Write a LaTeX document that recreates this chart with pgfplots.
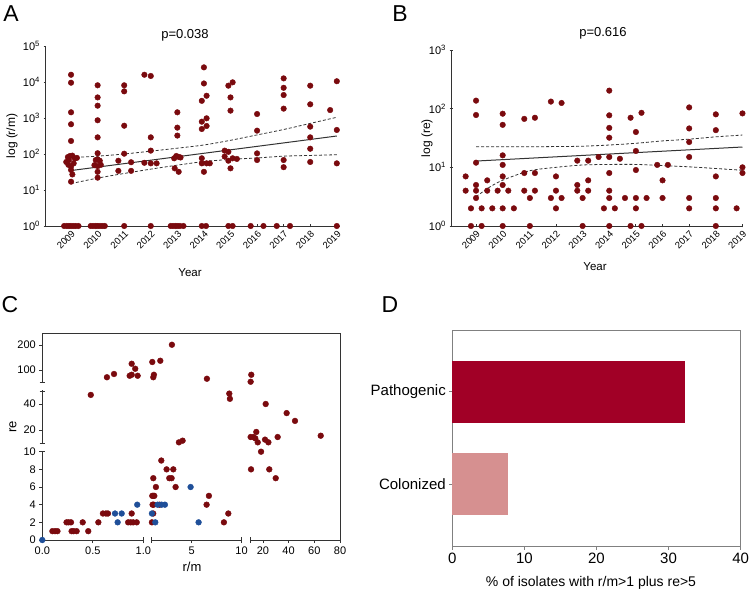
\documentclass[border=0pt]{standalone}
\usepackage{fontspec}
\setmainfont{Liberation Sans}
\usepackage{pgfplots}
\pgfplotsset{compat=1.18}
\usepackage{pgfplotstable}

\definecolor{dred}{HTML}{7A0A0E}
\definecolor{dblue}{HTML}{1F4F99}
\definecolor{patho}{HTML}{A10026}
\definecolor{colon}{HTML}{D69090}
\definecolor{axc}{HTML}{333333}

\pgfplotstableread{
x y
2009 15900
2009 9550
2009 1440
2009 670
2009 230
2008.88 82
2008.96 88
2009.05 90
2009.14 75
2009.22 78
2008.82 60
2008.92 68
2009.10 55
2008.90 50
2009.00 45
2009.00 36
2009.05 27
2009.00 17
2010 8100
2010 3730
2010 2200
2010 865
2010 290
2010 105
2009.93 68
2010.00 71
2010.08 65
2009.88 49
2010.00 46
2010.12 50
2010 32
2010 22
2011 8100
2011 5500
2011 610
2011 102
2010.78 65
2010.78 34
2011.26 59
2011.26 34
2011.76 15900
2012 14700
2012 290
2012 124
2011.76 57
2012 55
2012.22 55
2013 1440
2013 540
2013 325
2012.88 76
2012.96 88
2013.05 83
2013.12 80
2012.90 40
2013.05 32
2014 25500
2014 9100
2013.92 3000
2014.10 4150
2013.92 790
2014.10 980
2013.92 495
2014.10 600
2013.92 76
2013.92 55
2014.10 55
2014.22 55
2014 32
2014.92 7900
2015.08 9800
2015 3730
2015 1600
2014.78 124
2014.92 115
2014.78 85
2014.92 65
2015.08 76
2015.24 73
2015 40
2016 1290
2016 445
2016 104
2016 68
2017 12600
2017 6900
2017 4350
2017 1820
2017 68
2017 43
2018 7900
2018 2400
2018 575
2018 290
2018 140
2018 60
2019 10500
2018.75 1660
2019 465
2019 55
2008.74 1
2008.84 1
2008.92 1
2009.00 1
2009.09 1
2009.18 1
2009.28 1
2009.74 1
2009.83 1
2009.92 1
2010.00 1
2010.09 1
2010.18 1
2010.27 1
2011.00 1
2012.00 1
2012.75 1
2012.84 1
2012.93 1
2013.01 1
2013.10 1
2013.23 1
2013.92 1
2014.08 1
2014.92 1
2015.08 1
2015.76 1
2016.24 1
2016.74 1
2017.24 1
2019.00 1
}\tabA

\pgfplotstableread{
x y
2008.61 7
2008.61 4
2008.81 2
2008.81 1
2009 137
2009 78
2009 12
2009 5
2009 4
2009 3
2009.21 2
2009.21 1
2009.42 6
2009.42 4
2009.61 2
2009.81 4
2010 82
2010 53
2010 16
2010 11
2010 7
2010 5
2010 2
2010 1
2010.21 4
2010.42 2
2010.81 67
2010.81 8
2010.81 4
2011.02 3
2011.02 1
2011.21 70
2011.21 8
2011.21 4
2011.81 132
2012.21 125
2012 7
2012 4
2012 2
2011.81 3
2012.21 3
2012.8 13
2013.21 13
2012.8 5
2012.8 4
2013.21 6
2013.21 4
2013 3
2013 1
2013.6 15
2014 203
2014 77
2014 47
2014 32
2014 15
2014 8
2014 4
2014 3
2014 1
2013.8 2
2014.21 2
2014.4 14
2014.59 3
2014.8 70
2014.8 1
2015 40
2015 19
2015 9
2015 3
2015 2
2015.21 85
2015.21 1
2015.4 3
2015.8 11
2016.2 11
2016 6
2016 3
2017 105
2017 46
2017 27
2017 15
2017 3
2017 2
2018 80
2018 43
2018 7
2018 3
2018 2
2018 1
2018.78 2
2019 83
2019 10
2019 8
}\tabB

\pgfplotstableread{
rm re
3.03 201
1.87 137
1.07 132
0.885 125
0.92 105
0.865 77
0.885 81
0.944 77
0.71 84
0.64 71
1.23 81
1.17 71
6.53 65
11.0 81
10.5 53
0.48 47
8.77 48
8.83 44
22.2 40
38.5 33
45 27
65 15.6
14.9 18.5
10.5 14.6
12.6 14.6
14.1 13.6
16 10.5
21.7 12.6
24.3 10.5
31.5 14.6
3.73 10.5
4.1 11.8
18.6 10
10.8 8
25 8
30 7
1.97 9
2.5 8
3.17 8
2.77 7
3.0 7
1.17 7
3.4 6
1.43 6
1.07 5
1.17 5
1.27 5
6.73 5
1.1 4
1.2 4
1.8 4
6.5 4
1.16 3
8.67 3
1.03 2
8.23 2
0.10 1
0.126 1
0.15 1
0.29 1
0.31 1
0.34 1
0.455 1
0.24 2
0.26 2
0.284 2
0.40 2
0.555 2
0.85 2
0.875 2
0.90 2
0.935 2
0.60 3
0.63 3
0.65 3
0.885 3
}\tabCred

\pgfplotstableread{
rm re
0 0
0.72 3
0.786 3
0.746 2
0.94 4
1.03 3
1.37 2
1.6 4
2.0 4
2.33 4
4.9 6
5.7 2
}\tabCblue

% piecewise (broken-axis) mapping of panel C values to drawing units
\newcommand{\cxexpr}{ifthenelse(\thisrow{rm}<1.0001,101*\thisrow{rm},ifthenelse(\thisrow{rm}<10.0001,109.3+10*(\thisrow{rm}-1),207.7+1.2857*(\thisrow{rm}-10)))}
\newcommand{\cyexpr}{ifthenelse(\thisrow{re}<10.0001,8.83*\thisrow{re},ifthenelse(\thisrow{re}<50.0001,97+1.3*(\thisrow{re}-10),157.5+0.25*(\thisrow{re}-50)))}

\pgfplotsset{
  panel/.style={anchor=south west, scale only axis, enlargelimits=false, clip=false,
    tick align=outside, major tick length=3pt, minor tick length=0pt,
    tick style={axc, line width=0.8pt},
    /pgf/number format/assume math mode=true,
    /pgf/number format/1000 sep={}},
  yearaxis/.style={panel, axis lines=left, axis line style={-, axc, line width=0.9pt},
    xtick={2009,2010,...,2019},
    xticklabel style={rotate=45, anchor=north east, font=\fontsize{9.5}{10}\selectfont, inner sep=1.5pt},
    yticklabel style={font=\fontsize{11}{12}\selectfont}},
}

\begin{document}
\begin{tikzpicture}[x=1pt,y=1pt]
\path[use as bounding box] (0,0) rectangle (750,592);
\coordinate (pA) at (45,366);
\coordinate (pB) at (451,366);
\coordinate (pC) at (42.3,52);
\coordinate (pD) at (452.3,45.3);

% ---------------- Panel A ----------------
\begin{axis}[yearaxis, at={(pA)}, width=295pt, height=180pt,
  ymode=log, ymin=1, ymax=1e5, xmin=2008.02, xmax=2019.12,
  ytick={1,10,100,1000,10000,100000},
  yticklabels={10\textsuperscript{0},10\textsuperscript{1},10\textsuperscript{2},10\textsuperscript{3},10\textsuperscript{4},10\textsuperscript{5}}]
\addplot[only marks, mark=*, mark size=2.8pt, color=dred] table[x=x,y=y] {\tabA};
\addplot[axc, line width=1pt] coordinates {(2009,34.7) (2019,316)};
\addplot[axc, line width=0.8pt, dash pattern=on 3pt off 2pt, smooth] coordinates {
 (2009,79.4) (2010,87.1) (2011,100) (2012,120) (2013,145) (2014,178) (2015,240) (2016,339) (2017,479) (2018,708) (2019,1047)};
\addplot[axc, line width=0.8pt, dash pattern=on 3pt off 2pt, smooth] coordinates {
 (2009,15.1) (2010,21.4) (2011,28.8) (2012,38.0) (2013,49.0) (2014,61.7) (2015,70.8) (2016,77.6) (2017,87.1) (2018,91.2) (2019,95.5)};
\end{axis}

% ---------------- Panel B ----------------
\begin{axis}[yearaxis, at={(pB)}, width=292pt, height=176pt,
  ymode=log, ymin=1, ymax=1000, xmin=2008.06, xmax=2019.02,
  ytick={1,10,100,1000},
  yticklabels={10\textsuperscript{0},10\textsuperscript{1},10\textsuperscript{2},10\textsuperscript{3}}]
\addplot[only marks, mark=*, mark size=2.8pt, color=dred] table[x=x,y=y] {\tabB};
\addplot[axc, line width=1pt] coordinates {(2009,12.8) (2019,22.2)};
\addplot[axc, line width=0.8pt, dash pattern=on 3pt off 2pt, smooth] coordinates {
 (2009,22.4) (2010,22.4) (2011,22.4) (2012,22.6) (2013,22.9) (2014,24.0) (2015,25.7) (2016,28.2) (2017,30.2) (2018,33.1) (2019,35.5)};
\addplot[axc, line width=0.8pt, dash pattern=on 3pt off 2pt, smooth] coordinates {
 (2009,3.16) (2009.5,4.57) (2010,6.03) (2011,8.71) (2012,10.0) (2013,10.96) (2014,11.2) (2015,11.2) (2016,10.7) (2017,10.2) (2018,9.55) (2019,8.91)};
\end{axis}

% ---------------- Panel C ----------------
\begin{axis}[panel, at={(pC)}, width=297.7pt, height=206.7pt,
  xmin=0, xmax=297.7, ymin=0, ymax=206.7,
  axis line style={axc, line width=0.9pt},
  xtick pos=bottom, ytick pos=left,
  xtick={0,50.5,101,149.3,199.3,220.6,246.3,272,297.7},
  xticklabels={0.0,0.5,1.0,5,10,20,40,60,80},
  ytick={0,17.66,35.32,52.98,70.64,88.3,110,136,170,195},
  yticklabels={0,2,4,6,8,10,20,40,100,200},
  tick label style={font=\fontsize{11}{12}\selectfont}]
\addplot[only marks, mark=*, mark size=2.9pt, color=dred] table[x expr={\cxexpr}, y expr={\cyexpr}] {\tabCred};
\addplot[only marks, mark=*, mark size=2.9pt, color=dblue] table[x expr={\cxexpr}, y expr={\cyexpr}] {\tabCblue};
\end{axis}
% axis breaks of panel C
\fill[white] (143.8,49) rectangle (151.1,55);
\fill[white] (242.1,49) rectangle (249.5,55);
\fill[white] (39,140.8) rectangle (45.5,148.5);
\fill[white] (39,201.5) rectangle (45.5,209);
\begin{scope}[axc, line width=0.9pt]
\draw (143.3,49.3) -- (143.3,54.7);
\draw (151.6,49.3) -- (151.6,54.7);
\draw (241.6,49.3) -- (241.6,54.7);
\draw (250.0,49.3) -- (250.0,54.7);
\draw (39.6,140.3) -- (45,140.3);
\draw (39.6,149.0) -- (45,149.0);
\draw (39.6,201.0) -- (45,201.0);
\draw (39.6,209.5) -- (45,209.5);
\end{scope}

% ---------------- Panel D ----------------
\begin{axis}[panel, at={(pD)}, width=288.3pt, height=216.7pt,
  xmin=0, xmax=40, ymin=-0.677, ymax=1.67,
  axis line style={gray, line width=0.9pt}, tick style={gray, line width=0.8pt},
  xtick pos=bottom, ytick pos=left,
  xtick={0,10,20,30,40}, ytick={0,1}, yticklabels={Colonized,Pathogenic},
  tick label style={font=\fontsize{15}{16}\selectfont}]
\addplot[xbar, bar width=61.7pt, bar shift=0pt, fill=patho, draw=none] coordinates {(32.3,1)};
\addplot[xbar, bar width=61.7pt, bar shift=0pt, fill=colon, draw=none] coordinates {(7.7,0)};
\end{axis}

% ---------------- Texts ----------------
\node[font=\fontsize{23}{24}\selectfont] at (11,578) {A};
\node[font=\fontsize{23}{24}\selectfont] at (400,578) {B};
\node[font=\fontsize{23}{24}\selectfont] at (10,287) {C};
\node[font=\fontsize{23}{24}\selectfont] at (390,287) {D};
\node[font=\fontsize{13}{14}\selectfont] at (185,557) {p=0.038};
\node[font=\fontsize{13}{14}\selectfont] at (603,559) {p=0.616};
\node[font=\fontsize{11.5}{12}\selectfont] at (190,319) {Year};
\node[font=\fontsize{11.5}{12}\selectfont] at (595,325) {Year};
\node[font=\fontsize{12}{13}\selectfont, rotate=90] at (12,456) {log (r/m)};
\node[font=\fontsize{12}{13}\selectfont, rotate=90] at (427,454) {log (re)};
\node[font=\fontsize{13}{14}\selectfont, rotate=90] at (13,165) {re};
\node[font=\fontsize{13}{14}\selectfont] at (192,25) {r/m};
\node[font=\fontsize{14}{15}\selectfont] at (591,9) {\% of isolates with r/m>1 plus re>5};
\end{tikzpicture}
\end{document}
